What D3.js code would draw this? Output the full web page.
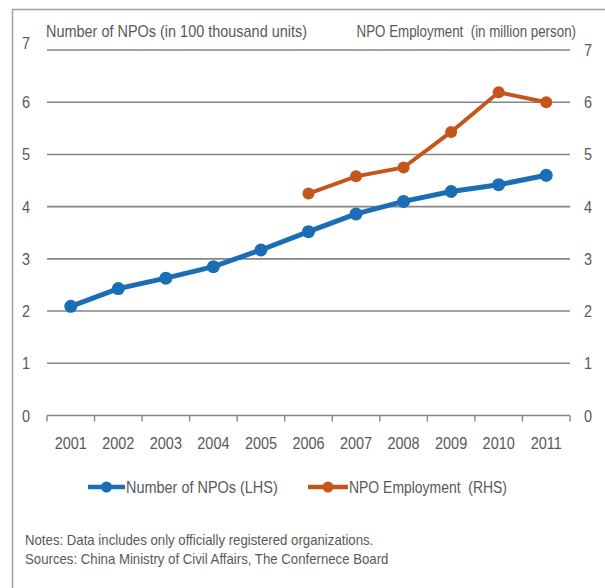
<!DOCTYPE html>
<html>
<head>
<meta charset="utf-8">
<script src="https://cdn.jsdelivr.net/npm/d3@7"></script>
<style>
html,body{margin:0;padding:0;background:#fff;}
svg text{font-family:"Liberation Sans",Arial,sans-serif;fill:#595959;white-space:pre;}
</style>
</head>
<body>
<svg id="chart" width="605" height="588"></svg>
<script>
const years = ["2001","2002","2003","2004","2005","2006","2007","2008","2009","2010","2011"];
const npoCount = [2.09, 2.43, 2.63, 2.85, 3.17, 3.52, 3.86, 4.10, 4.29, 4.42, 4.60];
const empYears = ["2006","2007","2008","2009","2010","2011"];
const npoEmployment = [4.25, 4.58, 4.75, 5.43, 6.19, 6.00];
const yTicks = [0,1,2,3,4,5,6,7];
const leftTitle = "Number of NPOs (in 100 thousand units)";
const rightTitle = "NPO Employment  (in million person)";
const legendLabels = ["Number of NPOs (LHS)", "NPO Employment  (RHS)"];
const notes = ["Notes: Data includes only officially registered organizations.",
               "Sources: China Ministry of Civil Affairs, The Confernece Board"];

const BLUE = "#1b6db5", ORANGE = "#c4561c", GRID = "#868686";
const svg = d3.select("#chart");

// condense helper (reference uses a condensed face)
function condense(sel, f){
  sel.each(function(){
    const len = this.getComputedTextLength();
    d3.select(this).attr("textLength", len*f).attr("lengthAdjust","spacingAndGlyphs");
  });
}

// frame
svg.append("path").attr("d","M12.5,600 L12.5,9.5 L620,9.5")
  .attr("fill","none").attr("stroke","#a0a0a0").attr("stroke-width",1.5);

const x = d3.scaleBand().domain(years).range([47, 570]).padding(0);
const yL = d3.scaleLinear().domain([0,7]).range([415.5, 50]);
const yR = d3.scaleLinear().domain([0,7]).range([415.5, 50]);

// gridlines
svg.append("g").selectAll("line").data(yTicks.filter(d=>d>0)).join("line")
  .attr("x1",47).attr("x2",570)
  .attr("y1",d=>yL(d)).attr("y2",d=>yL(d))
  .attr("stroke",GRID).attr("stroke-width",1.6);

// left axis labels
condense(svg.append("g").selectAll("text").data(yTicks).join("text")
  .attr("x",26).attr("y",d=>yL(d)+(d===7?-1:6)).attr("text-anchor","middle")
  .attr("font-size",17).text(d=>d), 0.85);
// right axis labels
condense(svg.append("g").selectAll("text").data(yTicks).join("text")
  .attr("x",588).attr("y",d=>yR(d)+6).attr("text-anchor","middle")
  .attr("font-size",17).text(d=>d), 0.85);

// x axis
const xAxis = svg.append("g").attr("transform",`translate(0,${yL(0)})`);
xAxis.append("line").attr("x1",47).attr("x2",570).attr("stroke",GRID).attr("stroke-width",1.6);
const bounds = years.map(d=>x(d)).concat([x(years[years.length-1])+x.bandwidth()]);
xAxis.selectAll("line.tick").data(bounds).join("line").attr("class","tick")
  .attr("x1",d=>d).attr("x2",d=>d).attr("y1",0).attr("y2",6)
  .attr("stroke",GRID).attr("stroke-width",1.4);
condense(xAxis.selectAll("text").data(years).join("text")
  .attr("x",d=>x(d)+x.bandwidth()/2).attr("y",33).attr("text-anchor","middle")
  .attr("font-size",17).text(d=>d), 0.85);

// titles
condense(svg.append("text").attr("x",46).attr("y",37).attr("font-size",17).text(leftTitle), 0.85);
svg.append("text").attr("transform","translate(576,37) scale(0.786,1)")
  .attr("text-anchor","end").attr("font-size",17).text(rightTitle);

// series
const cx = d=>x(d)+x.bandwidth()/2;
const lineL = d3.line().x((d,i)=>cx(years[i])).y(d=>yL(d));
svg.append("path").datum(npoCount).attr("d",lineL)
  .attr("fill","none").attr("stroke",BLUE).attr("stroke-width",5);
svg.append("g").selectAll("circle").data(npoCount).join("circle")
  .attr("cx",(d,i)=>cx(years[i])).attr("cy",d=>yL(d)).attr("r",6.5).attr("fill",BLUE);

const lineR = d3.line().x((d,i)=>cx(empYears[i])).y(d=>yR(d));
svg.append("path").datum(npoEmployment).attr("d",lineR)
  .attr("fill","none").attr("stroke",ORANGE).attr("stroke-width",4);
svg.append("g").selectAll("circle").data(npoEmployment).join("circle")
  .attr("cx",(d,i)=>cx(empYears[i])).attr("cy",d=>yR(d)).attr("r",6).attr("fill",ORANGE);

// legend
const legend = [{label:legendLabels[0],color:BLUE,x0:88,w:37,f:0.85},{label:legendLabels[1],color:ORANGE,x0:308,w:40,f:0.82}];
const lg = svg.append("g").selectAll("g").data(legend).join("g")
  .attr("transform",d=>`translate(${d.x0},487)`);
lg.append("line").attr("x1",0).attr("x2",d=>d.w).attr("stroke",d=>d.color).attr("stroke-width",4.5);
lg.append("circle").attr("cx",d=>d.w/2).attr("r",5.5).attr("fill",d=>d.color);
lg.append("text").attr("x",d=>d.w+1).attr("y",6).attr("font-size",17).text(d=>d.label)
  .each(function(d){ condense(d3.select(this), d.f); });

// notes
condense(svg.append("g").selectAll("text").data(notes).join("text")
  .attr("x",25).attr("y",(d,i)=>545+i*19).attr("font-size",15).text(d=>d), 0.88);
</script>
</body>
</html>
